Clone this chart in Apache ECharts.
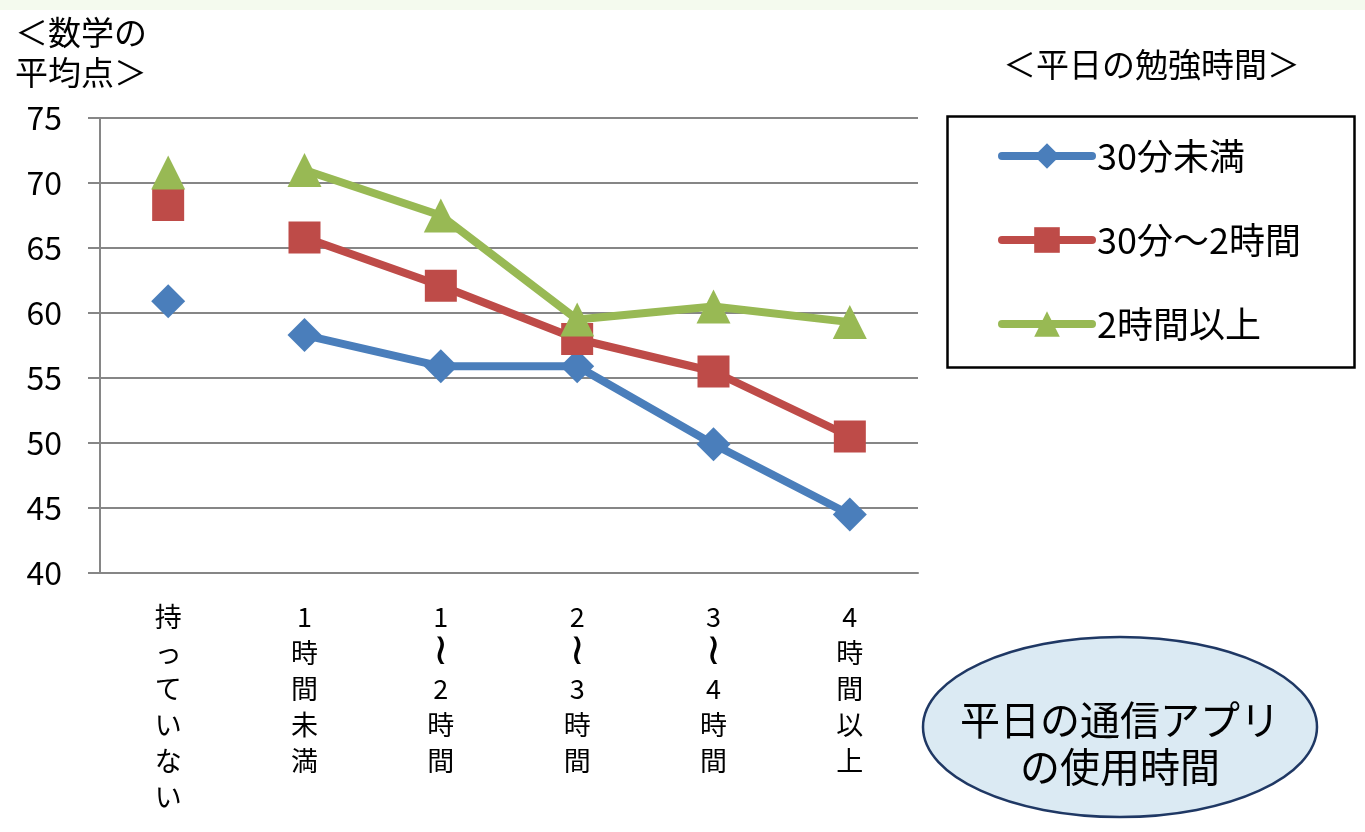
<!DOCTYPE html>
<html>
<head>
<meta charset="utf-8">
<script src="https://cdn.jsdelivr.net/npm/echarts@6/dist/echarts.min.js"></script>
<style>
  html, body { margin: 0; padding: 0; background: #fff; }
  #main { width: 1365px; height: 832px; }
</style>
</head>
<body>
<div id="main"></div>
<script>
// categories (平日の通信アプリの使用時間)
const categories = ['持っていない', '1時間未満', '1～2時間', '2～3時間', '3～4時間', '4時間以上'];
const seriesNames = ['30分未満', '30分～2時間', '2時間以上'];
// 数学の平均点
const under30 = [60.9, 58.3, 55.9, 55.9, 49.9, 44.5];
const mid30to2 = [68.3, 65.8, 62.1, 58.0, 55.5, 50.5];
const over2 = [70.8, 71.0, 67.5, 59.5, 60.5, 59.3];
const yTicks = [40, 45, 50, 55, 60, 65, 70, 75];

const font = '"Noto Sans CJK JP", "Noto Sans", sans-serif';
const colors = ['#4a7ebb', '#be4b48', '#98b954'];
const symbols = ['diamond', 'rect', 'triangle'];
const symbolSizes = [34, 32, 34];
const values = [under30, mid30to2, over2];

const chart = echarts.init(document.getElementById('main'));

// first category is not connected to the rest, so split every series in two
const lineSeries = [];
const pointSeries = [];
values.forEach((vals, i) => {
  const common = {
    name: seriesNames[i],
    type: 'line',
    symbol: symbols[i],
    symbolSize: symbolSizes[i],
    showSymbol: true,
    itemStyle: { color: colors[i] },
    lineStyle: { color: colors[i], width: 8, cap: 'round' },
    animation: false,
    z: 3 + i
  };
  lineSeries.push(Object.assign({}, common, {
    data: vals.map((v, k) => (k === 0 ? null : v))
  }));
  pointSeries.push(Object.assign({}, common, {
    data: vals.map((v, k) => (k === 0 ? v : null))
  }));
});

// vertical writing: one character per line, the wave dash drawn upright
const verticalLabel = (v) => v.split('').map(c => (c === '～' ? '{t|≀}' : '{c|' + c + '}')).join('\n');

const option = {
  backgroundColor: '#fff',
  textStyle: { fontFamily: font },
  grid: { left: 100, right: 447, top: 118, bottom: 259 },
  xAxis: {
    type: 'category',
    data: categories,
    boundaryGap: true,
    axisLine: { lineStyle: { color: '#868686', width: 2 } },
    axisTick: { length: 9, lineStyle: { color: '#868686', width: 2 } },
    axisLabel: {
      color: '#000',
      fontSize: 27,
      lineHeight: 36,
      margin: 26,
      interval: 0,
      fontFamily: font,
      formatter: verticalLabel,
      rich: {
        c: { fontFamily: font, fontSize: 27, lineHeight: 36, color: '#000' },
        t: { fontFamily: 'DejaVu Sans', fontSize: 44, lineHeight: 36, color: '#000' }
      }
    }
  },
  yAxis: {
    type: 'value',
    min: yTicks[0],
    max: yTicks[yTicks.length - 1],
    interval: 5,
    axisLine: { show: true, lineStyle: { color: '#868686', width: 2 } },
    axisTick: { show: true, length: 12, lineStyle: { color: '#868686', width: 2 } },
    splitLine: { lineStyle: { color: '#868686', width: 2 } },
    axisLabel: { color: '#000', fontSize: 32, margin: 38, fontFamily: font }
  },
  legend: {
    data: seriesNames,
    orient: 'vertical',
    left: 993,
    top: 131,
    itemWidth: 90,
    itemHeight: 32,
    itemGap: 44,
    selectedMode: false,
    lineStyle: { width: 8, cap: 'round' },
    textStyle: { fontSize: 36, lineHeight: 40, color: '#000', fontFamily: font }
  },
  graphic: [
    { type: 'rect', left: 0, top: 0, shape: { width: 1365, height: 10 }, style: { fill: '#f4faee' }, silent: true },
    { type: 'text', left: 15, top: 12, style: { text: '＜数学の\n平均点＞', font: '33px ' + font, lineHeight: 40, fill: '#000' } },
    { type: 'text', left: 1003, top: 48, style: { text: '＜平日の勉強時間＞', font: '33px ' + font, fill: '#000' } },
    { type: 'rect', left: 945, top: 114, shape: { width: 407, height: 251 }, style: { fill: 'none', stroke: '#000', lineWidth: 2.5 }, z: -1 },
    { type: 'ellipse', shape: { cx: 1120, cy: 727, rx: 197, ry: 90 }, style: { fill: '#dbeaf3', stroke: '#1f3864', lineWidth: 2.5 } },
    { type: 'text', x: 1120, y: 743, style: { text: '平日の通信アプリ\nの使用時間', font: '40px ' + font, lineHeight: 47, fill: '#000', align: 'center', verticalAlign: 'middle' }, z: 10 }
  ],
  series: lineSeries.concat(pointSeries)
};

chart.setOption(option);
</script>
</body>
</html>
